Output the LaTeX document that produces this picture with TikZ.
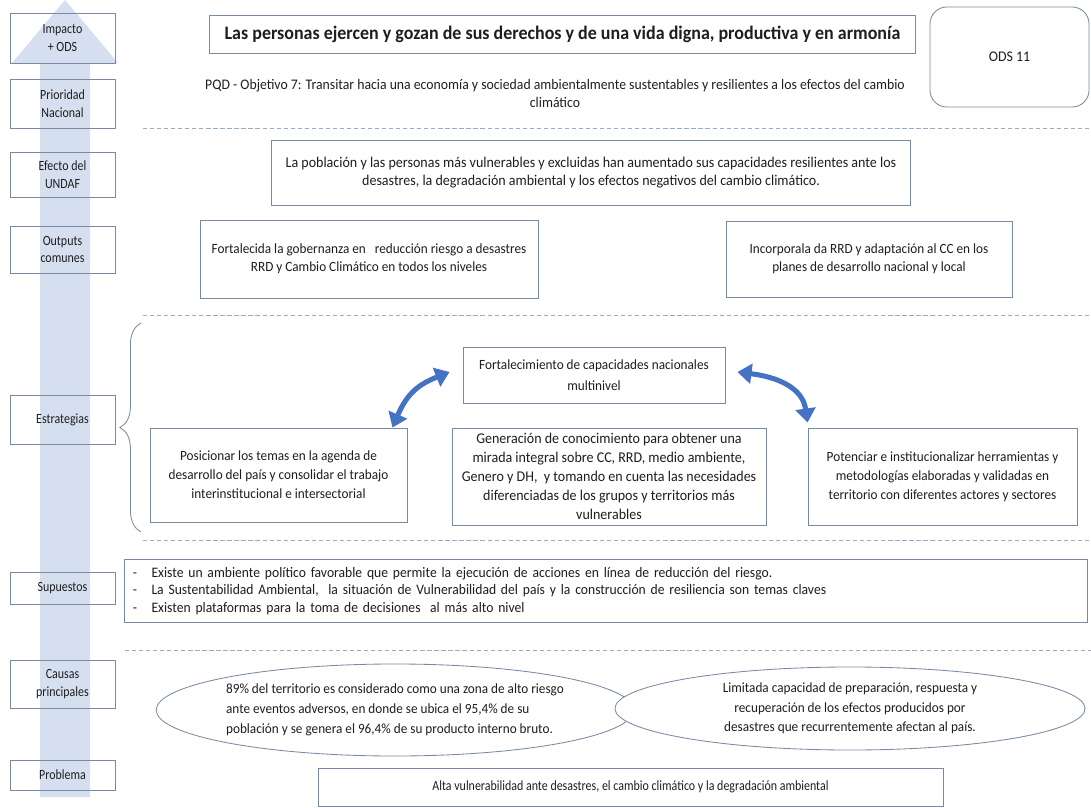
\documentclass[tikz,border=0pt]{standalone}
\usepackage{fontspec}
\setmainfont{Carlito}[FakeStretch=0.94]
\newfontfamily\labfont{Carlito}[FakeStretch=0.85]
\usetikzlibrary{arrows.meta,shapes.geometric,decorations.pathreplacing}

\definecolor{boxline}{RGB}{120,138,162}
\definecolor{bandblue}{RGB}{214,223,240}
\definecolor{arrowblue}{RGB}{68,114,196}
\definecolor{dashblue}{RGB}{150,172,200}
\definecolor{inkgray}{RGB}{30,30,30}

\tikzset{
  lab/.style={draw=boxline,line width=0.6pt,minimum width=2.625cm,align=center,
    inner sep=1pt,text=inkgray,font=\labfont\fontsize{10}{12.5}\selectfont},
  box/.style={draw=boxline,line width=0.6pt,fill=white,align=center,inner sep=2pt,
    text=inkgray,font=\fontsize{10}{12.7}\selectfont},
  strat/.style={box,font=\fontsize{10}{13.4}\selectfont},
  cause/.style={box,ellipse,inner sep=0pt,font=\fontsize{10}{14}\selectfont},
  sepline/.style={dashblue,line width=0.6pt,dash pattern=on 3pt off 2pt},
  link/.style={arrowblue,line width=3.6pt,
    {Triangle[width=14pt,length=10pt]}-{Triangle[width=14pt,length=10pt]}},
}

\begin{document}
\begin{tikzpicture}[x=0.025cm,y=-0.025cm]
\useasboundingbox (0,0) rectangle (1091,808);

% big arrow on the left
\fill[bandblue] (40,63) -- (40,797) -- (90,797) -- (90,63) -- (118,63) -- (65,0) -- (12,63) -- cycle;

% levels
\node[lab,minimum height=1.25cm] (imp) at (62.5,38) {Impacto\\+ ODS};
\node[lab,minimum height=1.225cm] (prio) at (62.5,103.5) {Prioridad\\Nacional};
\node[lab,minimum height=1.125cm] (efe) at (62.5,174.5) {Efecto del\\UNDAF};
\node[lab,minimum height=1.175cm] (outp) at (62.5,249.5) {Outputs\\comunes};
\node[lab,minimum height=1.225cm] (estr) at (62.5,419.5) {Estrategias};
\node[lab,minimum height=0.8cm] (supu) at (62.5,588) {Supuestos};
\node[lab,minimum height=1.2cm] (caus) at (62.5,684) {Causas\\principales};
\node[lab,minimum height=0.75cm] (prob) at (62.5,775) {Problema};

% impacto
\node[box,minimum width=17.625cm,minimum height=0.95cm,font=\fontsize{13.6}{16}\selectfont\bfseries] (imptxt) at (562.5,34)
  {Las personas ejercen y gozan de sus derechos y de una vida digna, productiva y en armonía};
\node[box,rounded corners=12pt,minimum width=3.975cm,minimum height=2.5cm,font=\fontsize{10.5}{12}\selectfont] (ods) at (1009.5,57) {ODS 11};
\node[align=center,text=inkgray,font=\fontsize{10.4}{12.8}\selectfont] (pqd) at (555,93)
  {PQD - Objetivo 7: Transitar hacia una economía y sociedad ambientalmente sustentables y resilientes a los efectos del cambio\\climático};
\draw[sepline] (143,128) -- (1091,128);

% efecto y outputs
\node[box,minimum width=15.95cm,minimum height=1.625cm,font=\fontsize{10.6}{12.7}\selectfont] (efetxt) at (591,172.5)
  {La población y las personas más vulnerables y excluidas han aumentado sus capacidades resilientes ante los\\
   desastres, la degradación ambiental y los efectos negativos del cambio climático.};
\node[box,minimum width=8.45cm,minimum height=1.95cm] (gob) at (369,259)
  {Fortalecida la gobernanza en \ \ reducción riesgo a desastres\\RRD y Cambio Climático en todos los niveles};
\node[box,minimum width=7.15cm,minimum height=1.9cm] (inc) at (869,259)
  {Incorporala da RRD y adaptación al CC en los\\planes de desarrollo nacional y local};
\draw[sepline] (143,315) -- (1091,315);

% estrategias
\draw[boxline,line width=0.6pt,decorate,decoration={brace,amplitude=15pt}] (141,532) -- (141,323);
\node[strat,minimum width=6.55cm,minimum height=1.4cm,font=\fontsize{10}{14.5}\selectfont] (capac) at (594,375)
  {Fortalecimiento de capacidades nacionales\\multinivel};
\node[strat,minimum width=6.425cm,minimum height=2.35cm] (posic) at (278.5,475)
  {Posicionar los temas en la agenda de\\desarrollo del país y consolidar el trabajo\\interinstitucional e intersectorial};
\node[strat,minimum width=7.85cm,minimum height=2.425cm,font=\fontsize{10.6}{13.4}\selectfont] (conoc) at (609,476.5)
  {Generación de conocimiento para obtener una\\mirada integral sobre CC, RRD, medio ambiente,\\Genero y DH, \ y tomando en cuenta las necesidades\\diferenciadas de los grupos y territorios más\\vulnerables};
\node[strat,minimum width=6.725cm,minimum height=2.425cm] (poten) at (942.5,476.5)
  {Potenciar e institucionalizar herramientas y\\metodologías elaboradas y validadas en\\territorio con diferentes actores y sectores};
\draw[link] ([xshift=-0.375cm]posic.north east) .. controls +(15,-35) and +(-30,12) .. ([xshift=-0.325cm,yshift=0.075cm]capac.west);
\draw[link] ([xshift=0.3cm,yshift=0.075cm]capac.east) .. controls +(40,5) and +(-5,-35) .. ([yshift=0.125cm]poten.north west);
\draw[sepline] (143,540) -- (1091,540);

% supuestos
\node[box,align=left,minimum width=24.05cm,minimum height=1.55cm,text width=23.65cm,inner sep=0.2cm,
  font=\fontsize{10.3}{12.4}\selectfont] (supues) at (606,591)
  {-\quad Existe un ambiente político favorable que permite la ejecución de acciones en línea de reducción del riesgo.\\
   -\quad La Sustentabilidad Ambiental, \ la situación de Vulnerabilidad del país y la construcción de resiliencia son temas claves\\
   -\quad Existen plataformas para la toma de decisiones \ al más alto nivel};
\draw[sepline] (125,650) -- (1091,650);

% causas y problema
\node[cause,minimum width=11.75cm,minimum height=2.3cm,align=left] (terr) at (395,710)
  {89\% del territorio es considerado como una zona de alto riesgo\\ante eventos adversos, en donde se ubica el 95,4\% de su\\población y se genera el 96,4\% de su producto interno bruto.};
\node[cause,minimum width=11.75cm,minimum height=2.075cm] (limi) at (850,708.5)
  {Limitada capacidad de preparación, respuesta y\\recuperación de los efectos producidos por\\desastres que recurrentemente afectan al país.};
\node[box,minimum width=15.625cm,minimum height=0.95cm,font=\labfont\fontsize{10}{12}\selectfont] (vuln) at (630.5,787)
  {Alta vulnerabilidad ante desastres, el cambio climático y la degradación ambiental};
\end{tikzpicture}
\end{document}
